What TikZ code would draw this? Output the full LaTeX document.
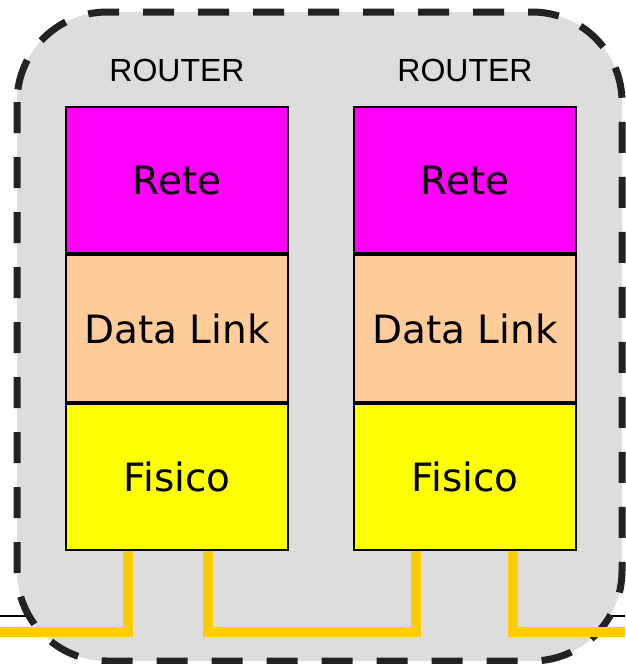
\documentclass[tikz,border=0pt]{standalone}
\usepackage{fontspec}
\setmainfont{Liberation Sans}
\newfontfamily\layerfont{DejaVu Sans}
\usetikzlibrary{positioning}
\definecolor{netmag}{HTML}{FF00FF}
\definecolor{linkpeach}{HTML}{FFCC99}
\definecolor{phyyellow}{HTML}{FFFF00}
\definecolor{boxgray}{HTML}{DDDDDD}
\definecolor{cablegold}{HTML}{FFCC00}
\definecolor{dashgray}{HTML}{222222}
\tikzset{
  layer/.style={draw=black,line width=2pt,minimum width=222pt,minimum height=146.3pt,
    inner sep=0pt,font=\layerfont\fontsize{39}{41}\selectfont},
  rlabel/.style={inner sep=0pt,font=\fontsize{32}{34}\selectfont},
  cable/.style={cablegold,line width=10pt},
}
\begin{document}
\begin{tikzpicture}[x=1pt,y=-1pt]
\useasboundingbox (0,0) rectangle (625,664);
% line behind the routers
\coordinate (wl) at (0,616);
\coordinate (wr) at (625,616);
\draw[line width=1.5pt] (wl) -- (wr);
% dashed area
\filldraw[fill=boxgray,draw=dashgray,line width=7pt,dash pattern=on 31pt off 24pt,
  rounded corners=90pt] (17,12) rectangle (622,661);
% two routers
\foreach \r/\x in {1/177,2/465}{
\node[rlabel] (lab\r) at (\x,70) {ROUTER};
\node[layer,fill=netmag] (rete\r) at (\x,180.2) {Rete};
\node[layer,fill=linkpeach,below=0pt of rete\r] (dl\r) {Data Link};
\node[layer,fill=phyyellow,below=0pt of dl\r] (fis\r) {Fisico};
}
% cables
\coordinate (cl) at (0,632);
\coordinate (cr) at (625,632);
\coordinate (p1) at ([xshift=-49pt]fis1.south);
\coordinate (p2) at ([xshift=31pt]fis1.south);
\coordinate (p3) at ([xshift=-49pt]fis2.south);
\coordinate (p4) at ([xshift=48pt]fis2.south);
\draw[cable] (cl) -| (p1);
\draw[cable] (p2) |- (p3 |- cl) -- (p3);
\draw[cable] (p4) |- (cr);
\end{tikzpicture}
\end{document}
